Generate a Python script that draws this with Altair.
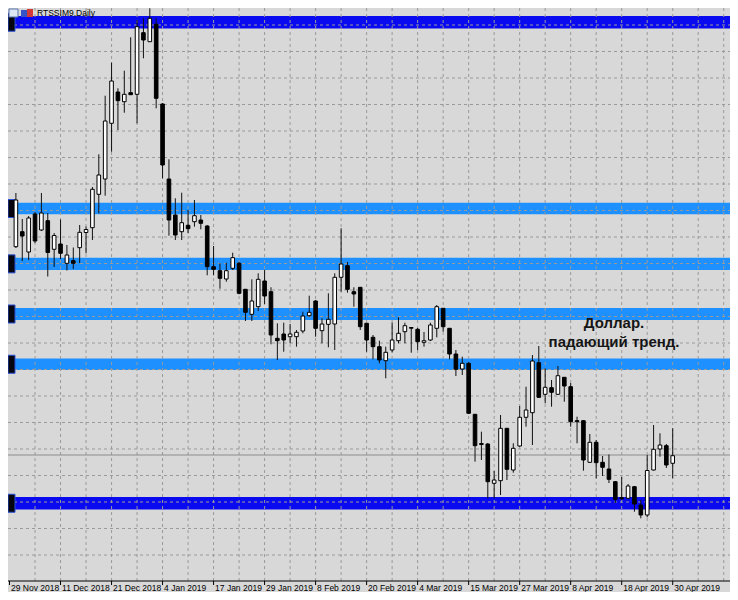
import altair as alt
import pandas as pd

# ---- Si-6.19 (RTSSIM9) daily candles, 30 Nov 2018 .. 30 Apr 2019 (bar index 0..103)
opens = [68533, 68683, 68480, 68860, 68700, 68793, 68507, 68560, 68367, 68393,
         68523, 68675, 68723, 69057, 69210, 69767, 70080, 69983, 70073, 70057,
         70673, 70583, 70757, 69960, 69210, 68850, 68683, 68747, 68783, 68800,
         68740, 68333, 68293, 68210, 68317, 68367, 68107, 67857, 67933, 68190,
         68083, 67617, 67660, 67633, 67633, 67690, 67843, 67990, 67693, 67757,
         67760, 68227, 68343, 68083, 68127, 67767, 67627, 67533, 67393, 67500,
         67593, 67683, 67725, 67707, 67577, 67600, 67717, 67917, 67717, 67460,
         67310, 67367, 66857, 66565, 66560, 66167, 66193, 66717, 66300, 66540,
         66827, 66873, 67373, 67057, 67123, 67057, 67227, 67133, 66793, 66793,
         66377, 66577, 66377, 66310, 66183, 66023, 66017, 66133, 65950, 65850,
         66300, 66510, 66543, 66367]
highs = [69070, 68810, 68840, 68880, 69070, 68870, 68670, 68805, 68550, 68525,
         68750, 68735, 69130, 69457, 70043, 70373, 70117, 70293, 70627, 70800,
         70817, 70917, 70817, 69970, 69407, 69017, 69073, 68900, 69000, 68850,
         68750, 68540, 68367, 68373, 68473, 68380, 68110, 68207, 68267, 68300,
         68127, 67767, 67773, 67760, 67700, 67883, 68043, 68000, 67817, 68067,
         68267, 68717, 68380, 68127, 68130, 67770, 67650, 67593, 67533, 67773,
         67827, 67773, 67727, 67720, 67680, 67773, 67950, 67920, 67720, 67500,
         67433, 67380, 66860, 66683, 66570, 66290, 66850, 66720, 66567, 66940,
         67133, 67450, 67540, 67317, 67200, 67340, 67230, 67170, 66833, 66800,
         66660, 66600, 66440, 66455, 66190, 66230, 66160, 66140, 66000, 66450,
         66750, 66667, 66560, 66717]
lows = [68520, 68390, 68400, 68570, 68690, 68235, 68330, 68410, 68295, 68310,
        68370, 68467, 68600, 68867, 69043, 69483, 69700, 69873, 70050, 69767,
        70417, 70583, 69917, 69217, 68643, 68600, 68600, 68667, 68733, 68707,
        68247, 68247, 68113, 68183, 68300, 68057, 67790, 67790, 67890, 67960,
        67557, 67400, 67483, 67567, 67533, 67667, 67833, 67633, 67567, 67527,
        67500, 68083, 68073, 67933, 67700, 67483, 67407, 67367, 67217, 67477,
        67567, 67567, 67473, 67500, 67533, 67590, 67627, 67683, 67407, 67240,
        67250, 66860, 66383, 66400, 66017, 66017, 66050, 66200, 66273, 66533,
        66733, 66550, 67020, 66967, 66933, 67050, 66983, 66733, 66567, 66293,
        66370, 66217, 66240, 66170, 65970, 66000, 66007, 65883, 65817, 65827,
        66295, 66433, 66320, 66217]
closes = [69000, 68640, 68820, 68590, 68870, 68475, 68645, 68467, 68450, 68367,
          68677, 68705, 69107, 69250, 69790, 70190, 69993, 70057, 70053, 70733,
          70600, 70817, 70017, 69350, 68800, 68650, 68773, 68713, 68843, 68767,
          68333, 68307, 68217, 68293, 68423, 68067, 67877, 67990, 68207, 68040,
          67650, 67593, 67600, 67660, 67677, 67840, 67877, 67717, 67760, 67807,
          68227, 68360, 68107, 68060, 67733, 67600, 67533, 67400, 67477, 67600,
          67667, 67743, 67718, 67583, 67593, 67750, 67933, 67733, 67460, 67307,
          67367, 66867, 66543, 66555, 66183, 66200, 66717, 66307, 66517, 66827,
          66900, 67390, 67027, 67127, 67077, 67243, 67140, 66783, 66783, 66400,
          66577, 66373, 66327, 66207, 66007, 66013, 66140, 65960, 65850, 66295,
          66507, 66550, 66350, 66443]

# time-axis labels (bar index -> label)
tick_index = [-1, 7, 15, 23, 31, 39, 47, 55, 63, 71, 79, 87, 95, 103]
tick_labels = ["29 Nov 2018", "11 Dec 2018", "21 Dec 2018", "4 Jan 2019", "17 Jan 2019",
               "29 Jan 2019", "8 Feb 2019", "20 Feb 2019", "4 Mar 2019", "15 Mar 2019",
               "27 Mar 2019", "8 Apr 2019", "18 Apr 2019", "30 Apr 2019"]
vgrid_index = [3, 7, 11, 15, 19, 23, 27, 31, 35, 39, 43, 47, 51, 55, 59, 63, 67, 71,
               75, 79, 83, 87, 91, 95, 99, 103, 107, 111]
hgrid_price = [70750, 70485, 70220, 69955, 69690, 69425, 69160, 68895, 68630, 68365,
               68100, 67835, 67570, 67305, 67040, 66775, 66510, 66245, 65980, 65715, 65450]

# horizontal level zones
dark_lo = [70715, 65905]
dark_hi = [70840, 66030]
light_lo = [68857, 68300, 67800, 67300]
light_hi = [68973, 68423, 67920, 67415]
bid_price = [66450]

note_lines = ["Доллар.", "падающий тренд."]
note_x = [93.8, 93.8]
note_y = [67770, 67580]

W, H = 722, 573
BG = "#D8D8D8"
xs = alt.Scale(domain=[-0.454, 111.2], nice=False, zero=False)
ys = alt.Scale(domain=[65190, 70920], nice=False, zero=False)
SMALL_FONT = "Liberation Sans Narrow, Arial Narrow, Liberation Sans"

df = pd.DataFrame({"i": list(range(len(opens))), "o": opens, "h": highs, "l": lows, "c": closes})
up = df[df.c >= df.o]
down = df[df.c < df.o]

one = pd.DataFrame({"a": [0]})

dark = alt.Chart(pd.DataFrame({"lo": dark_lo, "hi": dark_hi})).mark_rect(color="#0A0AF0").encode(
    x=alt.value(0), x2=alt.value(W),
    y=alt.Y("lo:Q", scale=ys, axis=None), y2="hi:Q")
light = alt.Chart(pd.DataFrame({"lo": light_lo, "hi": light_hi})).mark_rect(color="#1E90FF").encode(
    x=alt.value(0), x2=alt.value(W),
    y=alt.Y("lo:Q", scale=ys, axis=None), y2="hi:Q")

hgrid = alt.Chart(pd.DataFrame({"p": hgrid_price})).mark_rule(
    color="#9A9A9A", strokeDash=[3, 3], strokeWidth=1).encode(
    y=alt.Y("p:Q", scale=ys, axis=None), x=alt.value(0), x2=alt.value(W))
vgrid = alt.Chart(pd.DataFrame({"i": vgrid_index})).mark_rule(
    color="#9A9A9A", strokeDash=[3, 3], strokeWidth=1).encode(
    x=alt.X("i:Q", scale=xs, axis=None), y=alt.value(0), y2=alt.value(H))

bid = alt.Chart(pd.DataFrame({"p": bid_price})).mark_rule(color="#8C8C8C", strokeWidth=1).encode(
    y=alt.Y("p:Q", scale=ys, axis=None), x=alt.value(0), x2=alt.value(W))

centers = [(a + b) / 2 for a, b in zip(dark_lo[:1] + light_lo + dark_lo[1:], dark_hi[:1] + light_hi + dark_hi[1:])]
mk = pd.DataFrame({"lo": [c - 90 for c in centers], "hi": [c + 90 for c in centers]})
markers = alt.Chart(mk).mark_rect(fill="#050510", stroke="#2A50D8", strokeWidth=1).encode(
    x=alt.value(0), x2=alt.value(7),
    y=alt.Y("lo:Q", scale=ys, axis=None), y2="hi:Q")

wicks = alt.Chart(df).mark_rule(color="#111111", strokeWidth=1).encode(
    x=alt.X("i:Q", scale=xs, axis=None),
    y=alt.Y("l:Q", scale=ys, axis=None), y2="h:Q")
bodies_up = alt.Chart(up).mark_bar(size=3.6, fill="white", stroke="black", strokeWidth=1).encode(
    x=alt.X("i:Q", scale=xs, axis=None),
    y=alt.Y("o:Q", scale=ys, axis=None), y2="c:Q")
bodies_down = alt.Chart(down).mark_bar(size=3.6, fill="black", stroke="black", strokeWidth=1).encode(
    x=alt.X("i:Q", scale=xs, axis=None),
    y=alt.Y("o:Q", scale=ys, axis=None), y2="c:Q")

note = alt.Chart(pd.DataFrame({"x": note_x, "y": note_y, "t": note_lines})).mark_text(
    font="Liberation Sans", fontWeight="bold", fontSize=15, color="#151515",
    align="center", baseline="middle").encode(
    x=alt.X("x:Q", scale=xs, axis=None), y=alt.Y("y:Q", scale=ys, axis=None), text="t:N")

axis_line = alt.Chart(one).mark_rule(color="black", strokeWidth=1).encode(
    x=alt.value(0), x2=alt.value(W), y=alt.value(H))
lbl = pd.DataFrame({"i": tick_index, "t": tick_labels})
ticks = alt.Chart(lbl).mark_rule(color="black", strokeWidth=1).encode(
    x=alt.X("i:Q", scale=xs, axis=None), y=alt.value(H), y2=alt.value(H + 4))
labels = alt.Chart(lbl).mark_text(
    font=SMALL_FONT, fontSize=8.5, color="black", align="left", baseline="middle", dx=1.5).encode(
    x=alt.X("i:Q", scale=xs, axis=None), y=alt.value(H + 7), text="t:N")

title = alt.Chart(one).mark_text(
    font=SMALL_FONT, fontSize=8.5, color="black", align="left", baseline="middle").encode(
    x=alt.value(29), y=alt.value(5), text=alt.value("RTSSIM9,Daily"))
icon1 = alt.Chart(one).mark_rect(fill="#DDE6F5", stroke="#5A74A8", strokeWidth=1).encode(
    x=alt.value(1), x2=alt.value(10), y=alt.value(1), y2=alt.value(9))
icon2a = alt.Chart(one).mark_rect(fill="#3553C8").encode(
    x=alt.value(13), x2=alt.value(19), y=alt.value(2), y2=alt.value(9))
icon2b = alt.Chart(one).mark_rect(fill="#D23A3A").encode(
    x=alt.value(19), x2=alt.value(25), y=alt.value(1), y2=alt.value(9))

chart = alt.layer(
    dark, light, hgrid, vgrid, bid, markers, wicks, bodies_up, bodies_down, note,
    axis_line, ticks, labels, title, icon1, icon2a, icon2b
).properties(
    width=W, height=H,
    autosize=alt.AutoSizeParams(type="none"),
    padding={"left": 0, "top": 0, "right": 0, "bottom": 11},
    background=BG,
).configure_view(strokeWidth=0)

chart.save("out.html", embed_options={"renderer": "svg", "actions": False})
